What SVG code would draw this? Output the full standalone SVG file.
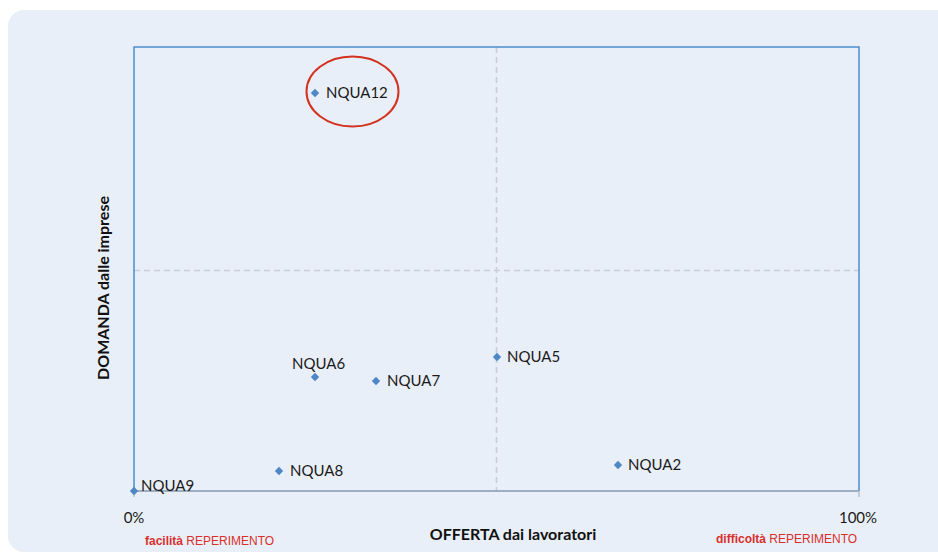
<svg xmlns="http://www.w3.org/2000/svg" width="938" height="553" viewBox="0 0 938 553">
<style>
.lbl{font-family:Lato,"Liberation Sans",sans-serif;font-size:15px;fill:#1a1a1a}
.pt{fill:#4F86C6}
.grid{stroke:#C9CDD8;stroke-width:1.6;stroke-dasharray:6 4;fill:none}
.red{font-family:"Liberation Sans",Arial,sans-serif;font-size:12px;fill:#D9302C}
.ax{font-family:Lato,"Liberation Sans",sans-serif;font-size:15px;fill:#1a1a1a}
.ttl{font-family:Lato,"Liberation Sans",sans-serif;font-size:16px;font-weight:bold;fill:#111}
</style>
<defs>
<path id="dm" d="M0,-4.2 L4.2,0 L0,4.2 L-4.2,0 Z"/>
</defs>
<rect x="0" y="0" width="938" height="553" fill="#FFFFFF"/>
<rect x="8" y="10" width="950" height="542" rx="16" fill="#E9EFF8"/>
<g id="grid">
<line class="grid" x1="134" y1="270.5" x2="859" y2="270.5"/>
<line class="grid" x1="496.5" y1="47" x2="496.5" y2="491"/>
</g>
<g id="frame">
<path d="M134,491 L134,47 L859,47 L859,491" fill="none" stroke="#4A8FCB" stroke-width="1.5"/>
<line x1="134" y1="491" x2="859" y2="491" stroke="#8497AE" stroke-width="1.5"/>
<line x1="134" y1="491" x2="134" y2="497" stroke="#B9BFC9" stroke-width="1.5"/>
<line x1="859" y1="491" x2="859" y2="497" stroke="#B9BFC9" stroke-width="1.5"/>
</g>
<g id="NQUA12"><use href="#dm" class="pt" x="315" y="93"/><text class="lbl" x="326" y="98">NQUA12</text></g>
<g id="NQUA6"><use href="#dm" class="pt" x="315" y="377"/><text class="lbl" x="292" y="369">NQUA6</text></g>
<g id="NQUA7"><use href="#dm" class="pt" x="376" y="381"/><text class="lbl" x="387" y="386">NQUA7</text></g>
<g id="NQUA5"><use href="#dm" class="pt" x="497" y="357"/><text class="lbl" x="507" y="362">NQUA5</text></g>
<g id="NQUA8"><use href="#dm" class="pt" x="279" y="471"/><text class="lbl" x="290" y="476">NQUA8</text></g>
<g id="NQUA2"><use href="#dm" class="pt" x="618" y="465"/><text class="lbl" x="628" y="470">NQUA2</text></g>
<g id="NQUA9"><use href="#dm" class="pt" x="134" y="491"/><text class="lbl" x="141" y="491">NQUA9</text></g>
<g id="highlight"><ellipse cx="352.5" cy="91.5" rx="46" ry="35" fill="none" stroke="#D2321F" stroke-width="2"/></g>
<g id="axes-labels">
<text class="ax" x="134" y="523" text-anchor="middle">0%</text>
<text class="ax" x="858" y="523" text-anchor="middle">100%</text>
<text class="ttl" x="513" y="540" text-anchor="middle">OFFERTA dai lavoratori</text>
<text class="ttl" transform="translate(109,288) rotate(-90)" text-anchor="middle">DOMANDA dalle imprese</text>
<text class="red" x="145" y="545"><tspan font-weight="bold">facilità</tspan> REPERIMENTO</text>
<text class="red" x="716" y="543"><tspan font-weight="bold">difficoltà</tspan> REPERIMENTO</text>
</g>
</svg>
